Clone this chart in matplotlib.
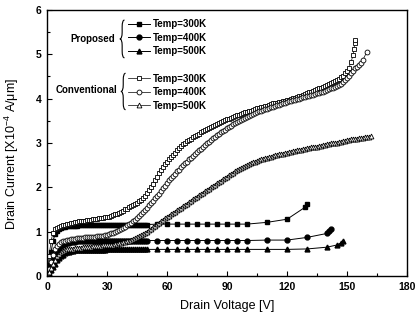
import numpy as np
import matplotlib
matplotlib.use("Agg")
import matplotlib.pyplot as plt
from matplotlib.path import Path
from matplotlib.patches import PathPatch

plt.rcParams['font.family'] = ['Liberation Sans', 'DejaVu Sans']
plt.rcParams['mathtext.fontset'] = 'custom'
plt.rcParams['mathtext.rm'] = 'Liberation Sans'

# ---- proposed device: dense sweep 0..50 V (1 V step), then sparse points
v_dense = np.arange(0, 51, 1)
p300_dense = [0.0, 0.25, 0.55, 0.80, 0.95, 1.02, 1.06, 1.08, 1.10, 1.11,
              1.12, 1.12, 1.13, 1.13, 1.13, 1.13, 1.14, 1.14, 1.14, 1.14,
              1.14, 1.14, 1.14, 1.14, 1.15, 1.15, 1.15, 1.15, 1.15, 1.15,
              1.15, 1.15, 1.15, 1.15, 1.15, 1.15, 1.15, 1.15, 1.16, 1.16,
              1.16, 1.16, 1.16, 1.16, 1.16, 1.16, 1.16, 1.16, 1.16, 1.16, 1.16]
p400_dense = [0.0, 0.10, 0.22, 0.35, 0.47, 0.56, 0.62, 0.67, 0.70, 0.72,
              0.74, 0.75, 0.76, 0.77, 0.77, 0.78, 0.78, 0.78, 0.78, 0.78,
              0.78, 0.78, 0.79, 0.79, 0.79, 0.79, 0.79, 0.79, 0.79, 0.79,
              0.79, 0.79, 0.79, 0.79, 0.79, 0.80, 0.80, 0.80, 0.80, 0.80,
              0.80, 0.80, 0.80, 0.80, 0.80, 0.80, 0.80, 0.80, 0.80, 0.80, 0.80]
p500_dense = [0.0, 0.06, 0.13, 0.20, 0.28, 0.35, 0.40, 0.45, 0.48, 0.51,
              0.53, 0.55, 0.56, 0.57, 0.58, 0.58, 0.58, 0.59, 0.59, 0.59,
              0.59, 0.59, 0.59, 0.59, 0.59, 0.59, 0.59, 0.59, 0.59, 0.59,
              0.60, 0.60, 0.60, 0.60, 0.60, 0.60, 0.60, 0.60, 0.60, 0.60,
              0.60, 0.60, 0.60, 0.60, 0.60, 0.60, 0.60, 0.60, 0.60, 0.60, 0.60]

p300_vs = [55, 60, 65, 70, 75, 80, 85, 90, 95, 100, 110, 120, 129, 130]
p300_is = [1.17, 1.17, 1.17, 1.17, 1.17, 1.17, 1.17, 1.17, 1.17, 1.17,
           1.21, 1.28, 1.55, 1.63]
p400_vs = [55, 60, 65, 70, 75, 80, 85, 90, 95, 100, 110, 120, 130, 140, 141, 142]
p400_is = [0.80, 0.80, 0.80, 0.80, 0.80, 0.80, 0.80, 0.80, 0.80, 0.80,
           0.81, 0.81, 0.87, 0.96, 1.01, 1.05]
p500_vs = [55, 60, 65, 70, 75, 80, 85, 90, 95, 100, 110, 120, 130, 140, 145, 147, 148]
p500_is = [0.60, 0.60, 0.60, 0.60, 0.60, 0.60, 0.60, 0.60, 0.60, 0.60,
           0.60, 0.60, 0.61, 0.65, 0.70, 0.75, 0.80]

# ---- conventional device: 0..150 V at 1 V step, plus breakdown tails
v_conv = np.arange(0, 151, 1)
c300 = [0.00, 0.45, 0.80, 0.98, 1.05, 1.09, 1.11, 1.13, 1.14, 1.16,
        1.17, 1.18, 1.19, 1.20, 1.21, 1.22, 1.23, 1.23, 1.24, 1.25,
        1.26, 1.26, 1.27, 1.28, 1.28, 1.29, 1.30, 1.30, 1.31, 1.32,
        1.33, 1.34, 1.36, 1.37, 1.39, 1.40, 1.42, 1.45, 1.47, 1.50,
        1.52, 1.55, 1.57, 1.60, 1.62, 1.65, 1.68, 1.72, 1.76, 1.81,
        1.87, 1.94, 2.01, 2.08, 2.16, 2.24, 2.32, 2.39, 2.46, 2.52,
        2.58, 2.63, 2.68, 2.73, 2.78, 2.83, 2.88, 2.93, 2.97, 3.01,
        3.04, 3.07, 3.10, 3.13, 3.16, 3.19, 3.21, 3.24, 3.26, 3.29,
        3.31, 3.34, 3.36, 3.39, 3.41, 3.43, 3.45, 3.47, 3.49, 3.51,
        3.53, 3.55, 3.57, 3.59, 3.60, 3.62, 3.64, 3.66, 3.67, 3.69,
        3.70, 3.72, 3.73, 3.75, 3.76, 3.78, 3.79, 3.81, 3.82, 3.83,
        3.84, 3.86, 3.87, 3.89, 3.90, 3.91, 3.92, 3.93, 3.94, 3.95,
        3.96, 3.98, 3.99, 4.01, 4.02, 4.04, 4.05, 4.07, 4.08, 4.10,
        4.12, 4.14, 4.15, 4.17, 4.19, 4.21, 4.23, 4.25, 4.27, 4.29,
        4.31, 4.33, 4.35, 4.38, 4.40, 4.43, 4.45, 4.48, 4.52, 4.57,
        4.62]
c300_tail_v = [151, 152, 153, 153.5, 153.8, 154]
c300_tail_i = [4.70, 4.82, 4.98, 5.12, 5.25, 5.33]
c400 = [0.00, 0.15, 0.32, 0.48, 0.60, 0.68, 0.73, 0.76, 0.78, 0.80,
        0.81, 0.82, 0.83, 0.84, 0.84, 0.85, 0.85, 0.86, 0.86, 0.87,
        0.87, 0.88, 0.88, 0.89, 0.89, 0.90, 0.90, 0.91, 0.91, 0.92,
        0.93, 0.94, 0.96, 0.97, 0.99, 1.01, 1.04, 1.06, 1.09, 1.11,
        1.14, 1.17, 1.20, 1.23, 1.27, 1.31, 1.35, 1.39, 1.44, 1.49,
        1.54, 1.59, 1.64, 1.70, 1.75, 1.81, 1.86, 1.92, 1.98, 2.04,
        2.10, 2.16, 2.21, 2.26, 2.31, 2.36, 2.40, 2.45, 2.50, 2.54,
        2.58, 2.63, 2.67, 2.71, 2.75, 2.79, 2.83, 2.87, 2.91, 2.95,
        2.99, 3.03, 3.07, 3.11, 3.14, 3.18, 3.21, 3.24, 3.27, 3.30,
        3.33, 3.36, 3.39, 3.42, 3.44, 3.47, 3.49, 3.52, 3.54, 3.57,
        3.59, 3.61, 3.63, 3.65, 3.67, 3.69, 3.71, 3.73, 3.74, 3.76,
        3.77, 3.79, 3.80, 3.82, 3.83, 3.85, 3.86, 3.88, 3.89, 3.91,
        3.92, 3.94, 3.95, 3.97, 3.98, 3.99, 4.00, 4.02, 4.03, 4.04,
        4.05, 4.07, 4.08, 4.09, 4.10, 4.12, 4.13, 4.15, 4.16, 4.18,
        4.19, 4.21, 4.23, 4.25, 4.27, 4.29, 4.31, 4.34, 4.37, 4.42,
        4.47]
c400_tail_v = [151, 152, 153, 154, 155, 156, 157, 158, 160]
c400_tail_i = [4.52, 4.58, 4.63, 4.68, 4.72, 4.76, 4.81, 4.88, 5.06]
c500 = [0.00, 0.08, 0.18, 0.28, 0.37, 0.44, 0.50, 0.53, 0.56, 0.58,
        0.60, 0.61, 0.62, 0.62, 0.63, 0.63, 0.64, 0.64, 0.65, 0.65,
        0.66, 0.66, 0.66, 0.67, 0.67, 0.67, 0.68, 0.68, 0.69, 0.69,
        0.70, 0.70, 0.71, 0.71, 0.72, 0.73, 0.74, 0.75, 0.76, 0.77,
        0.78, 0.80, 0.81, 0.83, 0.85, 0.87, 0.90, 0.92, 0.95, 0.97,
        1.00, 1.03, 1.06, 1.10, 1.13, 1.17, 1.20, 1.24, 1.27, 1.30,
        1.33, 1.36, 1.39, 1.42, 1.45, 1.48, 1.51, 1.54, 1.57, 1.60,
        1.63, 1.66, 1.69, 1.73, 1.76, 1.79, 1.82, 1.85, 1.88, 1.91,
        1.94, 1.97, 2.00, 2.03, 2.06, 2.09, 2.12, 2.15, 2.18, 2.21,
        2.24, 2.27, 2.30, 2.33, 2.36, 2.39, 2.41, 2.44, 2.46, 2.48,
        2.50, 2.52, 2.54, 2.56, 2.58, 2.60, 2.61, 2.63, 2.64, 2.66,
        2.67, 2.68, 2.69, 2.71, 2.72, 2.73, 2.74, 2.75, 2.76, 2.77,
        2.78, 2.79, 2.80, 2.81, 2.82, 2.83, 2.84, 2.85, 2.86, 2.87,
        2.88, 2.89, 2.90, 2.91, 2.92, 2.92, 2.93, 2.94, 2.95, 2.96,
        2.97, 2.98, 2.99, 2.99, 3.00, 3.01, 3.02, 3.03, 3.04, 3.05,
        3.06]
c500_tail_v = [151, 152, 153, 154, 155, 156, 157, 158, 159, 160, 161, 162]
c500_tail_i = [3.07, 3.08, 3.08, 3.09, 3.10, 3.11, 3.11, 3.12, 3.13, 3.14,
               3.14, 3.15]

labels = ['Temp=300K', 'Temp=400K', 'Temp=500K']

fig = plt.figure(figsize=(4.17, 3.2), dpi=100)
ax = fig.add_axes([0.113, 0.1375, 0.863, 0.8315])

ms = 3.5
prop = []
for dense, sv, si, mk in [(p300_dense, p300_vs, p300_is, 's'),
                          (p400_dense, p400_vs, p400_is, 'o'),
                          (p500_dense, p500_vs, p500_is, '^')]:
    h, = ax.plot(list(v_dense) + sv, list(dense) + si, color='black', lw=0.7,
                 marker=mk, ms=ms, mfc='black', mec='black')
    prop.append(h)

conv = []
for y, tv, ti, mk in [(c300, c300_tail_v, c300_tail_i, 's'),
                      (c400, c400_tail_v, c400_tail_i, 'o'),
                      (c500, c500_tail_v, c500_tail_i, '^')]:
    h, = ax.plot(list(v_conv) + tv, y + ti, color='black', lw=0.5, marker=mk,
                 ms=ms, mfc='white', mec='black', mew=0.6)
    conv.append(h)

ax.set_xlim(0, 180)
ax.set_ylim(0, 6)
ax.set_xticks(np.arange(0, 181, 30))
ax.set_xticks(np.arange(0, 181, 15), minor=True)
ax.set_yticks(np.arange(0, 7, 1))
ax.set_yticks(np.arange(0, 6.1, 0.5), minor=True)
ax.tick_params(which='both', direction='in', top=False, right=False,
               width=0.8, labelsize=7.5, pad=4)
ax.tick_params(which='major', length=3.5)
ax.tick_params(which='minor', length=2)
for t in ax.get_xticklabels() + ax.get_yticklabels():
    t.set_fontweight('bold')
for s in ax.spines.values():
    s.set_linewidth(1.0)

ax.set_xlabel('Drain Voltage [V]', fontsize=9, labelpad=6)
ax.set_ylabel('Drain Current [X10$^{\\mathregular{-4}}$ A/\u03bcm]', fontsize=9)
ax.yaxis.set_label_coords(-0.072, 0.46)

leg_kw = dict(loc='upper left', frameon=False, borderpad=0,
              borderaxespad=0, handlelength=2.3, handletextpad=0.3,
              labelspacing=0.35, prop={'weight': 'bold', 'size': 7})
leg1 = ax.legend(prop, labels, bbox_to_anchor=(0.225, 0.965), **leg_kw)
ax.add_artist(leg1)
leg2 = ax.legend(conv, labels, bbox_to_anchor=(0.225, 0.76), **leg_kw)

ax.text(0.19, 0.89, 'Proposed', transform=ax.transAxes, ha='right',
        va='center', fontsize=7, fontweight='bold')
ax.text(0.195, 0.70, 'Conventional', transform=ax.transAxes, ha='right',
        va='center', fontsize=7, fontweight='bold')


def brace(x0, y0, y1, w=0.013):
    ym = (y0 + y1) / 2
    r = 0.025
    xm = x0 + w / 2
    verts = [(x0 + w, y1), (xm, y1), (xm, y1 - r), (xm, ym + r),
             (xm, ym), (x0, ym), (x0, ym), (xm, ym), (xm, ym - r),
             (xm, y0 + r), (xm, y0), (x0 + w, y0)]
    codes = [Path.MOVETO, Path.CURVE3, Path.CURVE3, Path.LINETO,
             Path.CURVE3, Path.CURVE3, Path.MOVETO, Path.CURVE3, Path.CURVE3,
             Path.LINETO, Path.CURVE3, Path.CURVE3]
    ax.add_patch(PathPatch(Path(verts, codes), transform=ax.transAxes,
                           fill=False, lw=0.8, color='black'))


brace(0.202, 0.82, 0.962)
brace(0.205, 0.625, 0.762)

fig.savefig('out.png', dpi=100)
